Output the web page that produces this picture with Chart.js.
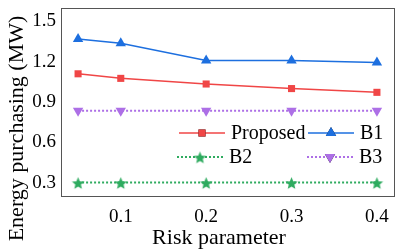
<!DOCTYPE html>
<html>
<head>
<meta charset="utf-8">
<script src="https://cdn.jsdelivr.net/npm/chart.js@4"></script>
<style>
  body { margin: 0; background: #fff; }
  #wrap { width: 407px; height: 252px; }
</style>
</head>
<body>
<div id="wrap"><canvas id="chart1" width="407" height="252"></canvas></div>
<script>
const riskParams = [0.05, 0.1, 0.2, 0.3, 0.4];
const proposed = [1.11, 1.076, 1.034, 1.0, 0.972];
const b1 = [1.37, 1.337, 1.209, 1.209, 1.194];
const b2 = [0.3, 0.3, 0.3, 0.3, 0.3];
const b3 = [0.835, 0.835, 0.835, 0.835, 0.835];
const xTicks = [0.1, 0.2, 0.3, 0.4];
const yTicks = [0.3, 0.6, 0.9, 1.2, 1.5];
const xTitle = "Risk parameter";
const yTitle = "Energy purchasing (MW)";

const serif = "'Liberation Serif', 'Times New Roman', serif";

// filled 5-point star used as point style
function makeStar(color, r) {
  const c = document.createElement("canvas");
  const s = Math.ceil(r * 2 + 2);
  c.width = s; c.height = s;
  const g = c.getContext("2d");
  g.fillStyle = color;
  g.beginPath();
  for (let i = 0; i < 10; i++) {
    const rad = i % 2 === 0 ? r : r * 0.45;
    const a = -Math.PI / 2 + i * Math.PI / 5;
    const px = s / 2 + rad * Math.cos(a), py = s / 2 + 1 + rad * Math.sin(a);
    if (i === 0) g.moveTo(px, py); else g.lineTo(px, py);
  }
  g.closePath();
  g.fill();
  return c;
}

const red = "#f04646", blue = "#1d6fdf", green = "#2eab5f", purple = "#ad6fe6";
const star = makeStar(green, 6.5);

function pts(arr) { return arr.map((v, i) => ({ x: riskParams[i], y: v })); }

const datasets = [
  { label: "Proposed", data: pts(proposed), borderColor: red, backgroundColor: red, pointStyle: "rect", pointRadius: 5, borderWidth: 1.5, pointBorderWidth: 0 },
  { label: "B1", data: pts(b1), borderColor: blue, backgroundColor: blue, pointStyle: "triangle", pointRadius: 6, borderWidth: 1.5, pointBorderWidth: 0 },
  { label: "B2", data: pts(b2), borderColor: green, backgroundColor: green, pointStyle: star, borderDash: [2, 2], borderWidth: 2, pointBorderWidth: 0 },
  { label: "B3", data: pts(b3), borderColor: purple, backgroundColor: purple, pointStyle: "triangle", rotation: 180, pointRadius: 6, borderDash: [2, 2], borderWidth: 2, pointBorderWidth: 0 }
];

// legend inside plot (2 columns) + axis titles
const extras = {
  id: "extras",
  afterDraw(chart) {
    const ctx = chart.ctx;
    ctx.save();
    ctx.fillStyle = "#000";
    ctx.font = "22px " + serif;
    ctx.textAlign = "center";
    ctx.textBaseline = "alphabetic";
    ctx.fillText(xTitle, 219, 244);
    ctx.textBaseline = "middle";
    ctx.translate(17, 128.5);
    ctx.rotate(-Math.PI / 2);
    ctx.fillText(yTitle, 0, 0);
    ctx.restore();

    const slots = [
      { x: 179, y: 133 }, { x: 308, y: 133 },
      { x: 177, y: 157 }, { x: 307, y: 157 }
    ];
    chart.data.datasets.forEach((ds, i) => {
      const s = slots[i];
      ctx.save();
      ctx.strokeStyle = ds.borderColor;
      ctx.lineWidth = ds.borderWidth;
      ctx.setLineDash(ds.borderDash || []);
      ctx.beginPath();
      ctx.moveTo(s.x, s.y);
      ctx.lineTo(s.x + 46, s.y);
      ctx.stroke();
      ctx.setLineDash([]);
      Chart.helpers.drawPoint(ctx, {
        pointStyle: ds.pointStyle, rotation: ds.rotation || 0,
        radius: ds.pointRadius || 3, borderWidth: 0
      }, s.x + 23, s.y);
      ctx.fillStyle = ds.backgroundColor;
      ctx.fill();
      ctx.fillStyle = "#000";
      ctx.font = "20px " + serif;
      ctx.textBaseline = "middle";
      ctx.textAlign = "left";
      ctx.fillText(ds.label, s.x + 52, s.y + 1);
      ctx.restore();
    });
  }
};

function noPad(s) { s.paddingTop = 0; s.paddingBottom = 0; s.paddingLeft = 0; s.paddingRight = 0; }

new Chart(document.getElementById("chart1").getContext("2d"), {
  type: "line",
  data: { datasets },
  options: {
    responsive: false,
    animation: false,
    layout: { padding: { top: 8, right: 13, left: 0, bottom: 0 } },
    scales: {
      x: {
        type: "linear", min: 0.03, max: 0.42,
        afterBuildTicks: s => { s.ticks = xTicks.map(v => ({ value: v })); },
        afterFit: s => { s.height = 56; noPad(s); },
        grid: { display: false, drawTicks: false },
        border: { display: true, color: "#555", width: 1 },
        ticks: { color: "#000", padding: 10, font: { family: serif, size: 19 }, callback: v => v.toFixed(1) }
      },
      y: {
        min: 0.2, max: 1.6,
        afterBuildTicks: s => { s.ticks = yTicks.map(v => ({ value: v })); },
        afterFit: s => { s.width = 61; noPad(s); },
        grid: { display: false, drawTicks: false },
        border: { display: true, color: "#555", width: 1 },
        ticks: { color: "#000", padding: 5, font: { family: serif, size: 19 }, callback: v => v.toFixed(1) }
      },
      x2: {
        type: "linear", position: "top", min: 0.03, max: 0.42,
        afterFit: s => { s.height = 0; noPad(s); },
        ticks: { display: false }, grid: { display: false, drawTicks: false },
        border: { display: true, color: "#555", width: 1 }
      },
      y2: {
        position: "right", min: 0.2, max: 1.6,
        afterFit: s => { s.width = 0; noPad(s); },
        ticks: { display: false }, grid: { display: false, drawTicks: false },
        border: { display: true, color: "#555", width: 1 }
      }
    },
    plugins: { legend: { display: false }, tooltip: { enabled: false } }
  },
  plugins: [extras]
});
</script>
</body>
</html>
